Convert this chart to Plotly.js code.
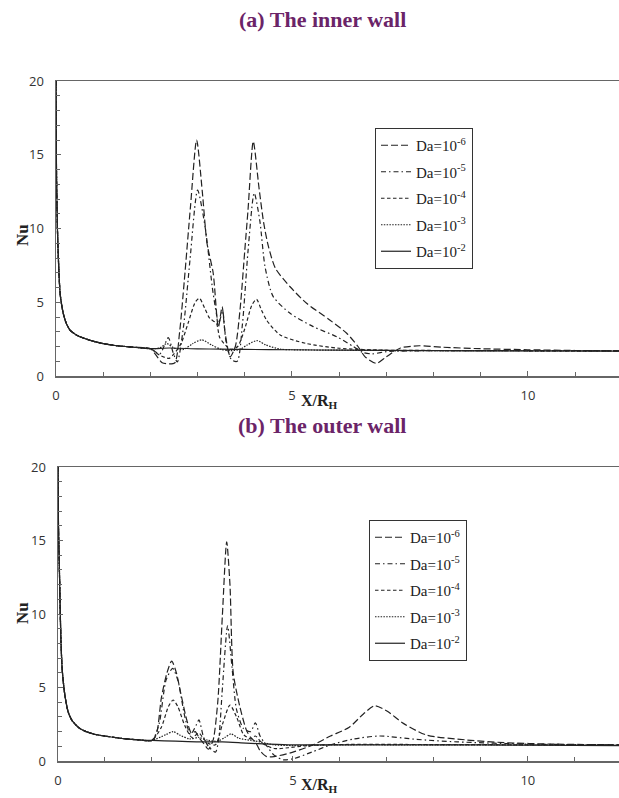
<!DOCTYPE html>
<html>
<head>
<meta charset="utf-8">
<script src="https://cdn.plot.ly/plotly-3.0.1.min.js"></script>
<style>html,body{margin:0;padding:0;background:#fff;}#chart{width:619px;height:798px;}</style>
</head>
<body>
<div id="chart"></div>
<script>
// ---------- Legend labels ----------
const seriesNames = ["Da=10<sup>-6</sup>", "Da=10<sup>-5</sup>", "Da=10<sup>-4</sup>", "Da=10<sup>-3</sup>", "Da=10<sup>-2</sup>"];
const xTickVals = [0, 5, 10];
const yTickVals = [0, 5, 10, 15, 20];

// ---------- (a) inner wall ----------
const xInner6 = [0,0.01,0.03,0.06,0.09,0.15,0.22,0.3,0.45,0.6,0.8,1.0,1.3,1.65,2.0,2.1,2.25,2.4,2.52,2.62,2.72,2.85,2.98,3.1,3.2,3.33,3.44,3.52,3.58,3.69,3.8,3.9,4.0,4.07,4.18,4.3,4.4,4.5,4.65,4.96,5.31,5.8,6.16,6.4,6.55,6.79,7.0,7.3,7.7,8.2,9,10,11,12];
const nuInner6 = [20,14,10,7.2,5.5,4.3,3.55,3.1,2.75,2.55,2.35,2.2,2.05,1.95,1.85,1.5,0.9,0.82,0.9,3.0,6.5,11.5,16.0,12.5,9.0,7.0,3.3,4.7,3.0,1.3,2.0,4.5,8.5,11.3,15.9,12.8,10.4,8.8,7.3,6.05,4.93,3.8,2.9,2.0,1.3,0.86,1.3,1.9,2.05,1.95,1.85,1.78,1.73,1.7];

const xInner5 = [0,0.01,0.03,0.06,0.09,0.15,0.22,0.3,0.45,0.6,0.8,1.0,1.3,1.65,2.0,2.2,2.38,2.48,2.57,2.7,2.84,3.0,3.16,3.33,3.45,3.53,3.6,3.72,3.84,3.95,4.07,4.2,4.32,4.43,4.6,4.96,5.45,5.95,6.3,6.5,6.7,7.0,8,10,12];
const nuInner5 = [20,14,10,7.2,5.5,4.3,3.55,3.1,2.75,2.55,2.35,2.2,2.05,1.95,1.85,1.5,2.6,1.6,0.95,3.3,7.9,12.6,10.1,5.6,3.6,4.4,2.4,1.1,1.0,3.5,8.5,12.4,10.5,7.4,5.4,4.25,3.35,2.66,2.0,1.6,1.5,1.65,1.72,1.72,1.7];

const xInner4 = [0,0.01,0.03,0.06,0.09,0.15,0.22,0.3,0.45,0.6,0.8,1.0,1.3,1.65,2.0,2.2,2.4,2.5,2.65,2.8,2.95,3.04,3.15,3.26,3.4,3.47,3.62,3.72,3.85,4.0,4.15,4.25,4.35,4.46,4.75,5.31,6.0,7,8,10,12];
const nuInner4 = [20,14,10,7.2,5.5,4.3,3.55,3.1,2.75,2.55,2.35,2.2,2.05,1.95,1.85,1.4,1.2,1.5,2.2,3.6,5.0,5.27,4.6,3.9,3.57,2.6,2.0,1.8,2.0,3.2,4.8,5.2,4.5,3.8,2.78,2.2,1.88,1.75,1.73,1.71,1.7];

const xInner3 = [0,0.01,0.03,0.06,0.09,0.15,0.22,0.3,0.45,0.6,0.8,1.0,1.3,1.65,2.0,2.2,2.35,2.5,2.7,2.9,3.09,3.3,3.5,3.7,3.9,4.05,4.26,4.45,4.75,5,6,7,8,10,12];
const nuInner3 = [20,14,10,7.2,5.5,4.3,3.55,3.1,2.75,2.55,2.35,2.2,2.05,1.95,1.85,1.9,2.2,1.9,1.8,2.2,2.45,2.1,1.8,1.72,1.8,2.1,2.4,2.1,1.82,1.78,1.75,1.73,1.72,1.71,1.7];

const xInner2 = [0,0.01,0.03,0.06,0.09,0.15,0.22,0.3,0.45,0.6,0.8,1.0,1.3,1.65,2.0,2.4,3.0,3.5,4.0,5,6,8,10,12];
const nuInner2 = [20,14,10,7.2,5.5,4.3,3.55,3.1,2.75,2.55,2.35,2.2,2.05,1.95,1.85,1.9,1.84,1.82,1.8,1.78,1.75,1.72,1.7,1.68];

// ---------- (b) outer wall ----------
const xOuter6 = [0,0.01,0.03,0.06,0.09,0.15,0.22,0.3,0.45,0.6,0.8,1.1,1.4,1.75,2.0,2.1,2.2,2.32,2.42,2.52,2.6,2.74,2.84,2.92,3.0,3.1,3.2,3.3,3.4,3.5,3.59,3.66,3.73,3.87,4.01,4.1,4.2,4.3,4.44,4.6,5.0,5.43,5.8,6.2,6.5,6.74,7.0,7.35,7.84,8.7,9.5,10.5,12];
const nuOuter6 = [20,16,13,8.5,6.2,4.4,3.3,2.75,2.25,2.0,1.8,1.65,1.52,1.43,1.4,1.9,4.3,6.0,6.8,6.0,4.8,2.8,1.9,2.0,1.6,1.2,0.8,1.4,4.0,10.0,14.9,12.0,6.0,3.7,2.1,1.6,1.3,0.7,0.3,0.3,0.6,1.1,1.7,2.3,3.2,3.76,3.4,2.56,1.77,1.43,1.25,1.15,1.1];

const xOuter5 = [0,0.01,0.03,0.06,0.09,0.15,0.22,0.3,0.45,0.6,0.8,1.1,1.4,1.75,2.0,2.15,2.3,2.44,2.55,2.7,2.82,2.95,3.0,3.1,3.2,3.35,3.42,3.5,3.61,3.7,3.8,3.95,4.1,4.2,4.3,4.45,4.6,4.8,5.0,5.4,5.8,6.3,6.85,7.63,8.5,10,12];
const nuOuter5 = [20,16,13,8.5,6.2,4.4,3.3,2.75,2.25,2.0,1.8,1.65,1.52,1.43,1.4,2.5,5.5,6.3,5.5,3.0,1.8,2.5,2.8,1.6,1.0,0.6,1.5,5.0,9.2,6.5,3.5,2.2,2.0,2.6,1.7,1.0,0.4,0.08,0.15,0.6,1.1,1.5,1.7,1.47,1.3,1.15,1.1];

const xOuter4 = [0,0.01,0.03,0.06,0.09,0.15,0.22,0.3,0.45,0.6,0.8,1.1,1.4,1.75,2.0,2.2,2.35,2.45,2.55,2.7,2.85,3.0,3.1,3.2,3.35,3.5,3.66,3.8,3.95,4.1,4.2,4.35,4.6,4.9,5.3,6,8,10,12];
const nuOuter4 = [20,16,13,8.5,6.2,4.4,3.3,2.75,2.25,2.0,1.8,1.65,1.52,1.43,1.4,2.3,3.7,4.15,3.7,2.4,1.6,1.9,1.5,1.2,1.1,2.5,3.8,3.0,1.8,1.5,1.7,1.2,0.85,0.9,1.05,1.12,1.12,1.1,1.08];

const xOuter3 = [0,0.01,0.03,0.06,0.09,0.15,0.22,0.3,0.45,0.6,0.8,1.1,1.4,1.75,2.0,2.3,2.45,2.6,2.8,3.0,3.2,3.4,3.55,3.68,3.85,4.1,4.3,4.6,5,6,8,10,12];
const nuOuter3 = [20,16,13,8.5,6.2,4.4,3.3,2.75,2.25,2.0,1.8,1.65,1.52,1.43,1.4,1.8,2.0,1.75,1.5,1.6,1.4,1.35,1.6,1.84,1.55,1.4,1.3,1.1,1.05,1.1,1.1,1.1,1.07];

const xOuter2 = [0,0.01,0.03,0.06,0.09,0.15,0.22,0.3,0.45,0.6,0.8,1.1,1.4,1.75,2.0,2.5,3.0,3.5,4.0,4.5,5,6,8,10,12];
const nuOuter2 = [20,16,13,8.5,6.2,4.4,3.3,2.75,2.25,2.0,1.8,1.65,1.52,1.43,1.4,1.35,1.3,1.3,1.22,1.15,1.1,1.1,1.1,1.08,1.05];

// ---------- styles ----------
const dashes = ["7px,3px", "5px,3px,1.5px,3px", "3.5px,2.5px", "1.5px,1.3px", "solid"];
const lineColor = "#222";

const innerX = [xInner6, xInner5, xInner4, xInner3, xInner2];
const innerY = [nuInner6, nuInner5, nuInner4, nuInner3, nuInner2];
const outerX = [xOuter6, xOuter5, xOuter4, xOuter3, xOuter2];
const outerY = [nuOuter6, nuOuter5, nuOuter4, nuOuter3, nuOuter2];

const traces = [];
for (let i = 0; i < 5; i++) {
  traces.push({
    x: innerX[i], y: innerY[i], xaxis: "x", yaxis: "y",
    type: "scatter", mode: "lines", name: seriesNames[i],
    legend: "legend", legendgroup: "a" + i,
    line: {color: lineColor, width: 1.2, dash: dashes[i], shape: "spline", smoothing: 0.7}
  });
}
for (let i = 0; i < 5; i++) {
  traces.push({
    x: outerX[i], y: outerY[i], xaxis: "x2", yaxis: "y2",
    type: "scatter", mode: "lines", name: seriesNames[i],
    legend: "legend2", legendgroup: "b" + i,
    line: {color: lineColor, width: 1.2, dash: dashes[i], shape: "spline", smoothing: 0.7}
  });
}

const W = 619, H = 798;
const tickFont = {family: "Open Sans, Liberation Sans, sans-serif", size: 13, color: "#333"};
function xAx(domL, maxX, anchor) {
  return {
    domain: [domL / W, 1], range: [0, maxX], anchor: anchor,
    tickmode: "array", tickvals: xTickVals, ticks: "inside", ticklen: 5, tickcolor: "#666",
    minor: {dtick: 1, tick0: 0, ticks: "inside", ticklen: 4, tickcolor: "#666", showgrid: false},
    showline: true, linecolor: "#666", linewidth: 1.5, mirror: true,
    showgrid: false, zeroline: false, tickfont: tickFont, ticklabelstandoff: 7
  };
}
function yAx(top, bottom, anchor) {
  return {
    domain: [1 - bottom / H, 1 - top / H], range: [0, 20], anchor: anchor,
    tickmode: "array", tickvals: yTickVals, ticks: "inside", ticklen: 5, tickcolor: "#666",
    minor: {dtick: 1, tick0: 0, ticks: "inside", ticklen: 4, tickcolor: "#666", showgrid: false},
    showline: true, linecolor: "#666", linewidth: 1.5, mirror: false,
    showgrid: false, zeroline: false, tickfont: tickFont, ticklabelstandoff: 8
  };
}

const titleFont = {family: "Liberation Serif, serif", size: 22, color: "#6b2468"};
const axTitleFont = {family: "Liberation Serif, serif", size: 17, color: "#222"};
const xTitleFont = {family: "Liberation Serif, serif", size: 16, color: "#222"};
const legendStyle = {
  bgcolor: "#fff", bordercolor: "#333", borderwidth: 1,
  font: {family: "Liberation Serif, serif", size: 15, color: "#222"},
  tracegroupgap: 4, xanchor: "left", yanchor: "top", itemwidth: 30
};

const layout = {
  width: W, height: H,
  margin: {l: 0, r: 0, t: 0, b: 0},
  paper_bgcolor: "#fff", plot_bgcolor: "#fff",
  showlegend: true,
  xaxis: xAx(56, 11.93, "y"),
  yaxis: yAx(81, 376, "x"),
  xaxis2: xAx(58, 11.94, "y2"),
  yaxis2: yAx(467, 761, "x2"),
  legend: Object.assign({x: 375 / W, y: 1 - 128 / H}, legendStyle),
  legend2: Object.assign({x: 369 / W, y: 1 - 520 / H}, legendStyle),
  annotations: [
    {text: "<b>(a) The inner wall</b>", xref: "paper", yref: "paper", x: 322 / W, y: 1 - 19 / H, showarrow: false, font: titleFont, xanchor: "center", yanchor: "middle"},
    {text: "<b>(b) The outer wall</b>", xref: "paper", yref: "paper", x: 322 / W, y: 1 - 425 / H, showarrow: false, font: titleFont, xanchor: "center", yanchor: "middle"},
    {text: "<b>Nu</b>", xref: "paper", yref: "paper", x: 22 / W, y: 1 - 235 / H, showarrow: false, font: axTitleFont, textangle: -90, xanchor: "center", yanchor: "middle"},
    {text: "<b>Nu</b>", xref: "paper", yref: "paper", x: 22 / W, y: 1 - 613 / H, showarrow: false, font: axTitleFont, textangle: -90, xanchor: "center", yanchor: "middle"},
    {text: "<b>X/R<sub>H</sub></b>", xref: "paper", yref: "paper", x: 319 / W, y: 1 - 401 / H, showarrow: false, font: xTitleFont, xanchor: "center", yanchor: "middle"},
    {text: "<b>X/R<sub>H</sub></b>", xref: "paper", yref: "paper", x: 319 / W, y: 1 - 785 / H, showarrow: false, font: xTitleFont, xanchor: "center", yanchor: "middle"}
  ]
};

Plotly.newPlot("chart", traces, layout, {displayModeBar: false, staticPlot: true});
</script>
</body>
</html>
